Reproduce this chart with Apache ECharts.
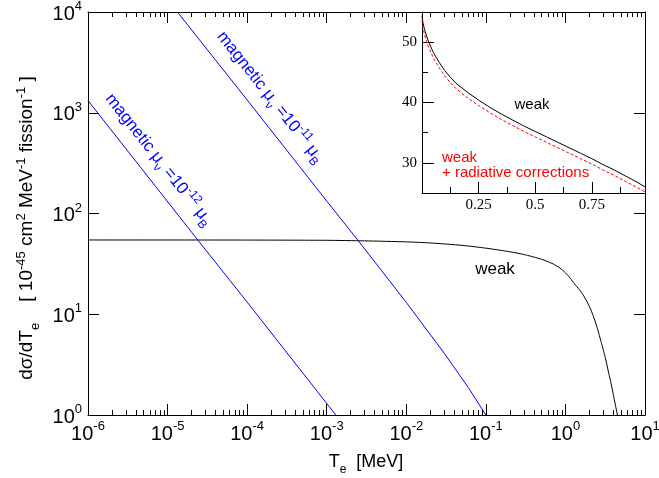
<!DOCTYPE html>
<html><head><meta charset="utf-8">
<script src="https://cdn.jsdelivr.net/npm/echarts@6/dist/echarts.min.js"></script>
<style>html,body{margin:0;padding:0;background:#fff}#c{width:659px;height:478px}</style>
</head><body><div id="c"></div>
<script>
// ---- data ----
const weakT = [1e-6, 1e-5, 1e-4, 1e-3, 3e-3, 0.01, 0.02, 0.05, 0.1, 0.2, 0.3, 0.5, 0.7, 0.85, 1.0, 1.15, 1.3, 1.5, 1.7, 2.0, 2.25, 2.5, 2.85, 3.2, 3.5, 3.75, 4.0, 4.25, 4.5, 4.7];
const weakY = [54.6, 54.6, 54.5, 54.2, 53.5, 52.3, 51.0, 48.3, 45.3, 41.7, 39.2, 35.2, 31.6, 28.8, 25.8, 22.8, 20.0, 17.5, 15.2, 12.0, 9.5, 7.4, 5.1, 3.6, 2.6, 2.05, 1.6, 1.25, 1.0, 0.8];
const mag12T = [1e-6, 2.4e-5, 1e-4, 1.3e-3];
const mag12Y = [1320, 54.5, 13.2, 1.0];
const mag11T = [1.33e-5, 1e-4, 1e-3, 2.5e-3, 0.01, 0.03, 0.06, 0.1];
const mag11Y = [1e4, 1340, 133, 53.5, 13.1, 4.1, 1.88, 1.0];
const insetT = [0, 0.002, 0.005, 0.01, 0.02, 0.03, 0.05, 0.075, 0.1, 0.125, 0.15, 0.2, 0.25, 0.3, 0.35, 0.4, 0.45, 0.5, 0.55, 0.6, 0.65, 0.7, 0.75, 0.8, 0.85, 0.9, 0.95, 0.985];
const insetWeak = [54.4, 53.8, 53.1, 52.3, 51.0, 50.0, 48.3, 46.7, 45.3, 44.2, 43.2, 41.7, 40.4, 39.2, 38.1, 37.1, 36.1, 35.2, 34.3, 33.4, 32.5, 31.6, 30.7, 29.7, 28.8, 27.8, 26.8, 26.0];
const insetRad = [53.6, 53.0, 52.2, 51.4, 50.1, 49.1, 47.4, 45.8, 44.4, 43.3, 42.3, 40.8, 39.5, 38.3, 37.2, 36.2, 35.2, 34.3, 33.4, 32.5, 31.6, 30.7, 29.8, 28.8, 27.9, 26.9, 25.9, 25.2];
const insetXLabels = [0.25, 0.5, 0.75];
const insetYLabels = [30, 40, 50];

const SANS = 'Liberation Sans, Arial, sans-serif';
const SERIF = 'Liberation Serif, Times New Roman, serif';
const pairs = (xs, ys) => xs.map((x, i) => [x, ys[i]]);

const powRich = {
  b: {fontSize: 20, fontFamily: SANS, color: '#000', verticalAlign: 'top', padding: [4, 0, 0, 0]},
  s: {fontSize: 13, fontFamily: SANS, color: '#000', verticalAlign: 'top'}
};
const powFmt = v => '{b|10}{s|' + Math.round(Math.log10(v)) + '}';

const chart = echarts.init(document.getElementById('c'), null, {renderer: 'canvas'});
const black = {color: '#000', width: 1};

const option = {
  animation: false,
  backgroundColor: '#fff',
  grid: [
    {left: 88, right: 14, top: 12, bottom: 63, outerBoundsMode: 'none', containLabel: false},
    {left: 422, right: 14, top: 12, bottom: 285, outerBoundsMode: 'none', containLabel: false}
  ],
  xAxis: [
    {type: 'log', gridIndex: 0, logBase: 10, min: 1e-6, max: 10, splitNumber: 7, position: 'bottom',
     axisLine: {lineStyle: black}, axisTick: {inside: true, length: 11, lineStyle: black},
     minorTick: {show: true, splitNumber: 9, length: 5, lineStyle: black},
     axisLabel: {formatter: powFmt, rich: powRich, margin: 5, showMinLabel: true, showMaxLabel: true, hideOverlap: false},
     splitLine: {show: false}, minorSplitLine: {show: false}},
    {type: 'log', gridIndex: 0, logBase: 10, min: 1e-6, max: 10, splitNumber: 7, position: 'top',
     axisLine: {lineStyle: black}, axisTick: {inside: true, length: 11, lineStyle: black},
     minorTick: {show: true, splitNumber: 9, length: 5, lineStyle: black},
     axisLabel: {show: false}, splitLine: {show: false}, minorSplitLine: {show: false}},
    {type: 'value', gridIndex: 1, min: 0, max: 0.985, interval: 0.125, position: 'bottom',
     axisLine: {lineStyle: black}, axisTick: {inside: true, length: 6, lineStyle: black},
     axisLabel: {show: false}, splitLine: {show: false}},
    {type: 'value', gridIndex: 1, min: 0, max: 0.985, position: 'bottom',
     axisLine: {show: false},
     axisTick: {inside: true, length: 11, lineStyle: black, customValues: insetXLabels},
     axisLabel: {customValues: insetXLabels, margin: 5, fontFamily: SERIF, fontSize: 15, color: '#000',
                 formatter: v => String(v)},
     splitLine: {show: false}}
  ],
  yAxis: [
    {type: 'log', gridIndex: 0, logBase: 10, min: 1, max: 1e4, splitNumber: 4, position: 'left',
     axisLine: {lineStyle: black}, axisTick: {inside: true, length: 11, lineStyle: black},
     axisLabel: {formatter: powFmt, rich: powRich, margin: 6, showMinLabel: true, showMaxLabel: true},
     splitLine: {show: false}},
    {type: 'log', gridIndex: 0, logBase: 10, min: 1, max: 1e4, splitNumber: 4, position: 'right',
     axisLine: {lineStyle: black}, axisTick: {inside: true, length: 11, lineStyle: black},
     axisLabel: {show: false}, splitLine: {show: false}},
    {type: 'value', gridIndex: 1, min: 25, max: 55, interval: 5, position: 'left',
     axisLine: {lineStyle: black}, axisTick: {inside: true, length: 6, lineStyle: black},
     axisLabel: {show: false}, splitLine: {show: false}},
    {type: 'value', gridIndex: 1, min: 25, max: 55, position: 'left',
     axisLine: {show: false},
     axisTick: {inside: true, length: 12, lineStyle: black, customValues: insetYLabels},
     axisLabel: {customValues: insetYLabels, margin: 5, fontFamily: SERIF, fontSize: 15, color: '#000'},
     splitLine: {show: false}}
  ],
  series: [
    {type: 'line', name: 'weak', xAxisIndex: 0, yAxisIndex: 0, data: pairs(weakT, weakY),
     showSymbol: false, lineStyle: {color: '#000', width: 1}, smooth: 0.2},
    {type: 'line', name: 'mag12', xAxisIndex: 0, yAxisIndex: 0, data: pairs(mag12T, mag12Y),
     showSymbol: false, lineStyle: {color: '#0000ff', width: 1}},
    {type: 'line', name: 'mag11', xAxisIndex: 0, yAxisIndex: 0, data: pairs(mag11T, mag11Y),
     showSymbol: false, lineStyle: {color: '#0000ff', width: 1}},
    {type: 'line', name: 'insetWeak', xAxisIndex: 2, yAxisIndex: 2, data: pairs(insetT, insetWeak),
     showSymbol: false, lineStyle: {color: '#000', width: 1}},
    {type: 'line', name: 'insetRad', xAxisIndex: 2, yAxisIndex: 2, data: pairs(insetT, insetRad),
     showSymbol: false, lineStyle: {color: '#ff0000', width: 1, type: [3, 2]}}
  ],
  graphic: [
    {type: 'text', x: 28, y: 228, rotation: Math.PI / 2,
     style: {text: '{t|dσ/dT}{sub|e}{t|    [ 10}{sup|-45}{t| cm}{sup|2}{t| MeV}{sup|-1}{t| fission}{sup|-1}{t| ]}',
       align: 'center', verticalAlign: 'middle', fill: '#000',
       rich: {
         t: {fontSize: 19, fontFamily: SANS, fill: '#000', verticalAlign: 'top', padding: [3, 0, 0, 0]},
         sup: {fontSize: 13, fontFamily: SANS, fill: '#000', verticalAlign: 'top'},
         sub: {fontSize: 13, fontFamily: SANS, fill: '#000', verticalAlign: 'top', padding: [14, 0, 0, 0]}
       }}},
    {type: 'text', x: 366, y: 463,
     style: {text: '{t|T}{sub|e}{t|  [MeV]}', align: 'center', verticalAlign: 'middle', fill: '#000',
       rich: {
         t: {fontSize: 18, fontFamily: SANS, fill: '#000', verticalAlign: 'top', padding: [3, 0, 0, 0]},
         sub: {fontSize: 12, fontFamily: SANS, fill: '#000', verticalAlign: 'top', padding: [13, 0, 0, 0]}
       }}},
    {type: 'text', x: 158.5, y: 160, rotation: -0.903,
     style: {text: '{t|magnetic μ}{sub|ν}{t| =10}{sup|-12}{t| μ}{sub|B}', align: 'center', verticalAlign: 'middle', fill: '#0000ff',
       rich: {
         t: {fontSize: 17, fontFamily: SANS, fill: '#0000ff', verticalAlign: 'top', padding: [3, 0, 0, 0]},
         sup: {fontSize: 12, fontFamily: SANS, fill: '#0000ff', verticalAlign: 'top'},
         sub: {fontSize: 12, fontFamily: SANS, fill: '#0000ff', verticalAlign: 'top', padding: [12, 0, 0, 0]}
       }}},
    {type: 'text', x: 270, y: 97.5, rotation: -0.903,
     style: {text: '{t|magnetic μ}{sub|ν}{t| =10}{sup|-11}{t| μ}{sub|B}', align: 'center', verticalAlign: 'middle', fill: '#0000ff',
       rich: {
         t: {fontSize: 17, fontFamily: SANS, fill: '#0000ff', verticalAlign: 'top', padding: [3, 0, 0, 0]},
         sup: {fontSize: 12, fontFamily: SANS, fill: '#0000ff', verticalAlign: 'top'},
         sub: {fontSize: 12, fontFamily: SANS, fill: '#0000ff', verticalAlign: 'top', padding: [12, 0, 0, 0]}
       }}},
    {type: 'text', x: 495, y: 269, style: {text: 'weak', align: 'center', verticalAlign: 'middle', fill: '#000', fontSize: 17, fontFamily: SANS}},
    {type: 'text', x: 532, y: 105, style: {text: 'weak', align: 'center', verticalAlign: 'middle', fill: '#000', fontSize: 15, fontFamily: SANS}},
    {type: 'text', x: 442, y: 157.5, style: {text: 'weak', align: 'left', verticalAlign: 'middle', fill: '#ff0000', fontSize: 15, fontFamily: SANS}},
    {type: 'text', x: 442, y: 173, style: {text: '+ radiative corrections', align: 'left', verticalAlign: 'middle', fill: '#ff0000', fontSize: 15, fontFamily: SANS}}
  ]
};
chart.setOption(option);
</script>
</body></html>
